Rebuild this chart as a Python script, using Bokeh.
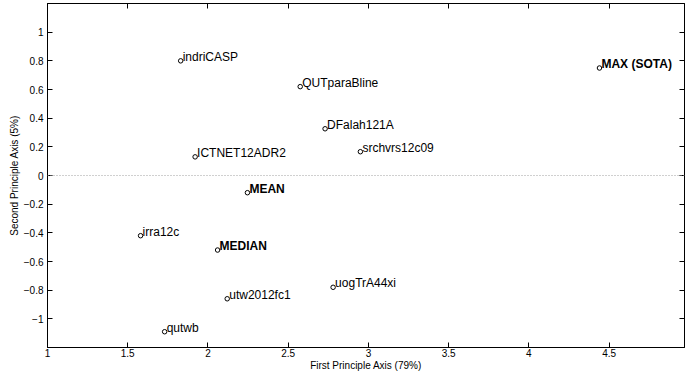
from bokeh.plotting import figure
from bokeh.models import (ColumnDataSource, LinearAxis, FixedTicker, Span,
                          CustomJSTickFormatter, Range1d)
from bokeh.embed import file_html
from bokeh.resources import INLINE
from bokeh.core.properties import value

# ---- data ----
run_names = ["indriCASP", "QUTparaBline", "DFalah121A", "ICTNET12ADR2",
             "srchvrs12c09", "irra12c", "utw2012fc1", "uogTrA44xi", "qutwb"]
run_x = [1.83, 2.575, 2.73, 1.92, 2.95, 1.58, 2.12, 2.78, 1.73]
run_y = [0.80, 0.62, 0.326, 0.13, 0.166, -0.42, -0.86, -0.78, -1.09]

summary_names = ["MEAN", "MEDIAN", "MAX (SOTA)"]
summary_x = [2.246, 2.06, 4.44]
summary_y = [-0.12, -0.52, 0.75]

x_ticks = [1, 1.5, 2, 2.5, 3, 3.5, 4, 4.5]
y_ticks = [-1, -0.8, -0.6, -0.4, -0.2, 0, 0.2, 0.4, 0.6, 0.8, 1]

x_label = "First Principle Axis (79%)"
y_label = "Second Principle Axis (5%)"

FONT = "Liberation Sans"

p = figure(width=685, height=373, output_backend="svg", toolbar_location=None,
           x_range=Range1d(1, 4.97), y_range=Range1d(-1.2, 1.2),
           x_axis_location=None, y_axis_location=None,
           min_border_left=47, min_border_bottom=20, min_border_top=3,
           min_border_right=1)
p.grid.visible = False
p.outline_line_color = "black"
p.outline_line_width = 1
p.background_fill_color = "white"
p.border_fill_color = "white"

fmt = CustomJSTickFormatter(code="""
const v = Number(Math.abs(tick).toFixed(2)).toString();
return (tick < 0 ? "\\u2212" : "") + v;
""")
blank = CustomJSTickFormatter(code="return '';")


def style_axis(ax, show_labels):
    ax.major_tick_in = 5
    ax.major_tick_out = 0
    ax.minor_tick_in = 0
    ax.minor_tick_out = 0
    ax.axis_line_color = "black"
    ax.axis_line_width = 1
    ax.major_tick_line_color = "black"
    ax.major_label_text_font = FONT
    ax.axis_label_text_font = FONT
    ax.axis_label_text_font_style = "normal"
    ax.axis_label_text_font_size = "10px"
    ax.axis_label_text_color = "black"
    ax.major_label_text_color = "black"
    if show_labels:
        ax.major_label_text_font_size = "10px"
        ax.major_label_standoff = 4
        ax.axis_label_standoff = 2
    else:
        ax.major_label_text_font_size = "1px"
        ax.major_label_standoff = 0
        ax.axis_label_standoff = 0


xb = LinearAxis(ticker=FixedTicker(ticks=x_ticks), formatter=fmt, axis_label=x_label)
style_axis(xb, True)
xb.major_label_standoff = 1
xb.axis_label_standoff = 0
p.add_layout(xb, "below")

yl = LinearAxis(ticker=FixedTicker(ticks=y_ticks), formatter=fmt, axis_label=y_label)
style_axis(yl, True)
yl.axis_label_standoff = 1
p.add_layout(yl, "left")

xt = LinearAxis(ticker=FixedTicker(ticks=x_ticks), formatter=blank)
style_axis(xt, False)
p.add_layout(xt, "above")

yr = LinearAxis(ticker=FixedTicker(ticks=y_ticks), formatter=blank)
style_axis(yr, False)
p.add_layout(yr, "right")

zero = Span(location=0, dimension="width", line_color="#a0a0a0",
            line_dash="1 2", line_width=1)
p.add_layout(zero)

runs = ColumnDataSource(dict(x=run_x, y=run_y, name=run_names))
summ = ColumnDataSource(dict(x=summary_x, y=summary_y, name=summary_names))

for src, style in ((runs, "normal"), (summ, "bold")):
    p.scatter("x", "y", source=src, marker="circle", size=4.5,
              fill_color="white", line_color="black", line_width=1)
    p.text("x", "y", text="name", source=src, x_offset=2, y_offset=3,
           text_font=value(FONT), text_font_size="12px",
           text_font_style=style, text_color="black",
           text_baseline="bottom", text_align="left")

open("out.html", "w").write(file_html(p, INLINE))
